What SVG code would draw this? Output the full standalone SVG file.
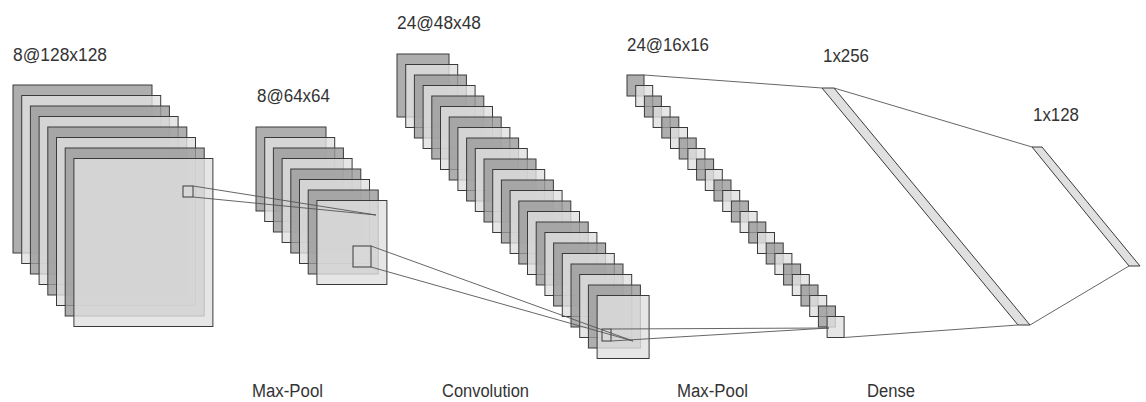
<svg xmlns="http://www.w3.org/2000/svg" width="1146" height="402" viewBox="0 0 1146 402">
<style>
rect.d{fill:#9a9a9a;fill-opacity:.8;stroke:#3a3a3a;stroke-width:1}
rect.l{fill:#e0e0e0;fill-opacity:.8;stroke:#3a3a3a;stroke-width:1}
rect.f{fill:#e0e0e0;fill-opacity:.3;stroke:#3a3a3a;stroke-width:1}
polygon.dn{fill:#e0e0e0;stroke:#3a3a3a;stroke-width:1}
line.c{stroke:#555;stroke-width:0.9}
text{font-family:"Liberation Sans",Arial,sans-serif;font-size:18px;fill:#333}
</style>
<rect width="1146" height="402" fill="#fff"/>
<g id="layer1">
<rect class="d" x="13" y="85" width="139" height="168"/>
<rect class="l" x="21.7" y="95.5" width="139" height="168"/>
<rect class="d" x="30.4" y="106" width="139" height="168"/>
<rect class="l" x="39.1" y="116.5" width="139" height="168"/>
<rect class="d" x="47.8" y="127" width="139" height="168"/>
<rect class="l" x="56.5" y="137.5" width="139" height="168"/>
<rect class="d" x="65.2" y="148" width="139" height="168"/>
<rect class="l" x="73.9" y="158.5" width="139" height="168"/>
<rect class="f" x="183" y="186" width="10" height="11"/>
<text x="13" y="61" textLength="94" lengthAdjust="spacingAndGlyphs">8@128x128</text>
</g>
<g id="layer2">
<rect class="d" x="256" y="127" width="70" height="84"/>
<rect class="l" x="264.7" y="137.5" width="70" height="84"/>
<rect class="d" x="273.4" y="148" width="70" height="84"/>
<rect class="l" x="282.1" y="158.5" width="70" height="84"/>
<rect class="d" x="290.8" y="169" width="70" height="84"/>
<rect class="l" x="299.5" y="179.5" width="70" height="84"/>
<rect class="d" x="308.2" y="190" width="70" height="84"/>
<rect class="l" x="316.9" y="200.5" width="70" height="84"/>
<rect class="f" x="353" y="246" width="18" height="21"/>
<text x="257" y="102" textLength="73" lengthAdjust="spacingAndGlyphs">8@64x64</text>
</g>
<g id="layer3">
<rect class="d" x="397" y="54" width="52" height="63"/>
<rect class="l" x="405.7" y="64.5" width="52" height="63"/>
<rect class="d" x="414.4" y="75" width="52" height="63"/>
<rect class="l" x="423.1" y="85.5" width="52" height="63"/>
<rect class="d" x="431.8" y="96" width="52" height="63"/>
<rect class="l" x="440.5" y="106.5" width="52" height="63"/>
<rect class="d" x="449.2" y="117" width="52" height="63"/>
<rect class="l" x="457.9" y="127.5" width="52" height="63"/>
<rect class="d" x="466.6" y="138" width="52" height="63"/>
<rect class="l" x="475.3" y="148.5" width="52" height="63"/>
<rect class="d" x="484" y="159" width="52" height="63"/>
<rect class="l" x="492.7" y="169.5" width="52" height="63"/>
<rect class="d" x="501.4" y="180" width="52" height="63"/>
<rect class="l" x="510.1" y="190.5" width="52" height="63"/>
<rect class="d" x="518.8" y="201" width="52" height="63"/>
<rect class="l" x="527.5" y="211.5" width="52" height="63"/>
<rect class="d" x="536.2" y="222" width="52" height="63"/>
<rect class="l" x="544.9" y="232.5" width="52" height="63"/>
<rect class="d" x="553.6" y="243" width="52" height="63"/>
<rect class="l" x="562.3" y="253.5" width="52" height="63"/>
<rect class="d" x="571" y="264" width="52" height="63"/>
<rect class="l" x="579.7" y="274.5" width="52" height="63"/>
<rect class="d" x="588.4" y="285" width="52" height="63"/>
<rect class="l" x="597.1" y="295.5" width="52" height="63"/>
<rect class="f" x="602" y="329" width="9" height="12"/>
<text x="397" y="29" textLength="84" lengthAdjust="spacingAndGlyphs">24@48x48</text>
</g>
<g id="layer4">
<rect class="d" x="627" y="75" width="17" height="21"/>
<rect class="l" x="635.7" y="85.5" width="17" height="21"/>
<rect class="d" x="644.4" y="96" width="17" height="21"/>
<rect class="l" x="653.1" y="106.5" width="17" height="21"/>
<rect class="d" x="661.8" y="117" width="17" height="21"/>
<rect class="l" x="670.5" y="127.5" width="17" height="21"/>
<rect class="d" x="679.2" y="138" width="17" height="21"/>
<rect class="l" x="687.9" y="148.5" width="17" height="21"/>
<rect class="d" x="696.6" y="159" width="17" height="21"/>
<rect class="l" x="705.3" y="169.5" width="17" height="21"/>
<rect class="d" x="714" y="180" width="17" height="21"/>
<rect class="l" x="722.7" y="190.5" width="17" height="21"/>
<rect class="d" x="731.4" y="201" width="17" height="21"/>
<rect class="l" x="740.1" y="211.5" width="17" height="21"/>
<rect class="d" x="748.8" y="222" width="17" height="21"/>
<rect class="l" x="757.5" y="232.5" width="17" height="21"/>
<rect class="d" x="766.2" y="243" width="17" height="21"/>
<rect class="l" x="774.9" y="253.5" width="17" height="21"/>
<rect class="d" x="783.6" y="264" width="17" height="21"/>
<rect class="l" x="792.3" y="274.5" width="17" height="21"/>
<rect class="d" x="801" y="285" width="17" height="21"/>
<rect class="l" x="809.7" y="295.5" width="17" height="21"/>
<rect class="d" x="818.4" y="306" width="17" height="21"/>
<rect class="l" x="827.1" y="316.5" width="17" height="21"/>
<text x="627" y="51" textLength="82" lengthAdjust="spacingAndGlyphs">24@16x16</text>
</g>
<g id="dense1">
<polygon class="dn" points="822,88 834,88 1030,325 1018,325"/>
<text x="823" y="62" textLength="46" lengthAdjust="spacingAndGlyphs">1x256</text>
</g>
<g id="dense2">
<polygon class="dn" points="1032,147 1042,147 1140,266 1129,266"/>
<text x="1033" y="121" textLength="46" lengthAdjust="spacingAndGlyphs">1x128</text>
</g>
<g id="connectors">
<line class="c" x1="193" y1="186" x2="376" y2="215"/>
<line class="c" x1="193" y1="197" x2="376" y2="215"/>
<line class="c" x1="371" y1="246" x2="633" y2="341"/>
<line class="c" x1="371" y1="267" x2="633" y2="341"/>
<line class="c" x1="611" y1="329" x2="829" y2="328"/>
<line class="c" x1="611" y1="341" x2="829" y2="328"/>
<line class="c" x1="644" y1="75" x2="822" y2="88"/>
<line class="c" x1="844" y1="337.5" x2="1018" y2="325"/>
<line class="c" x1="834" y1="88" x2="1032" y2="147"/>
<line class="c" x1="1030" y1="325" x2="1129" y2="266"/>
</g>
<g id="op-labels">
<text x="252" y="397" textLength="71" lengthAdjust="spacingAndGlyphs">Max-Pool</text>
<text x="442" y="397" textLength="87" lengthAdjust="spacingAndGlyphs">Convolution</text>
<text x="677" y="397" textLength="71" lengthAdjust="spacingAndGlyphs">Max-Pool</text>
<text x="867" y="397" textLength="48" lengthAdjust="spacingAndGlyphs">Dense</text>
</g>
</svg>
